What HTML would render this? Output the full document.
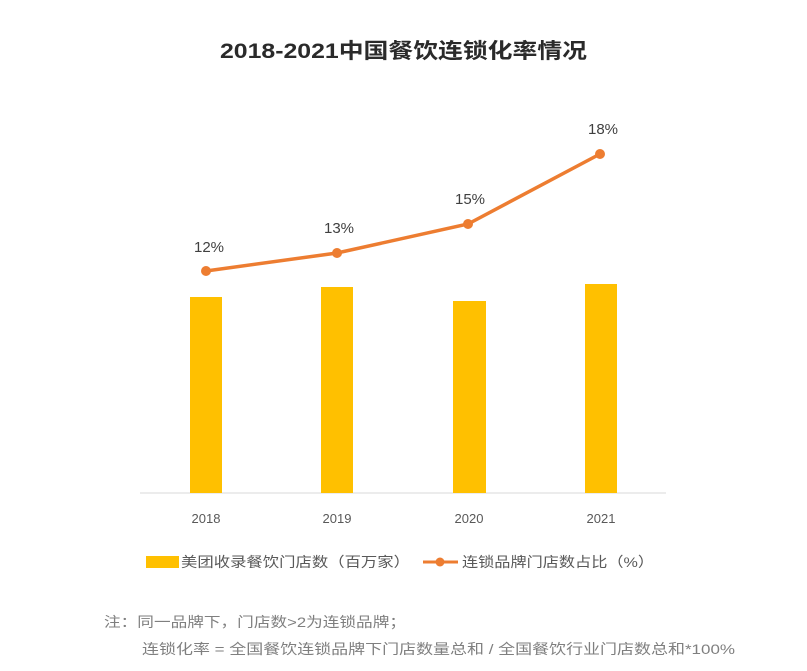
<!DOCTYPE html>
<html><head><meta charset="utf-8"><style>
body{margin:0;background:#fff;}
svg text{font-family:"Liberation Sans","Noto Sans CJK SC",sans-serif;}
</style></head><body>
<svg width="807" height="666" xmlns="http://www.w3.org/2000/svg">
<text x="220" y="58" font-size="21" font-weight="bold" fill="#2a2a2a" textLength="367" lengthAdjust="spacingAndGlyphs">2018-2021中国餐饮连锁化率情况</text>
<line x1="140" y1="493" x2="666" y2="493" stroke="#d9d9d9" stroke-width="1"/>
<g fill="#ffc000">
<rect x="190" y="297" width="32" height="196"/>
<rect x="321" y="287" width="32" height="206"/>
<rect x="453" y="301" width="33" height="192"/>
<rect x="585" y="284" width="32" height="209"/>
</g>
<polyline points="206,271 337,253 468,224 600,154" fill="none" stroke="#ed7d31" stroke-width="3.5"/>
<g fill="#ed7d31"><circle cx="206" cy="271" r="5"/><circle cx="337" cy="253" r="5"/><circle cx="468" cy="224" r="5"/><circle cx="600" cy="154" r="5"/></g>
<g font-size="15" fill="#404040" text-anchor="middle">
<text x="209" y="252">12%</text><text x="339" y="233">13%</text><text x="470" y="204">15%</text><text x="603" y="134">18%</text>
</g>
<g font-size="13" fill="#595959" text-anchor="middle">
<text x="206" y="523">2018</text><text x="337" y="523">2019</text><text x="469" y="523">2020</text><text x="601" y="523">2021</text>
</g>
<rect x="146" y="556" width="33" height="12" fill="#ffc000"/>
<text x="181" y="567" font-size="14" fill="#595959" textLength="229" lengthAdjust="spacingAndGlyphs">美团收录餐饮门店数（百万家）</text>
<line x1="423" y1="562" x2="458" y2="562" stroke="#ed7d31" stroke-width="3"/>
<circle cx="440" cy="562" r="4.5" fill="#ed7d31"/>
<text x="462" y="567" font-size="14" fill="#595959" textLength="192" lengthAdjust="spacingAndGlyphs">连锁品牌门店数占比（%）</text>
<text x="104" y="627" font-size="14" fill="#7f7f7f" textLength="302" lengthAdjust="spacingAndGlyphs">注：同一品牌下，门店数&gt;2为连锁品牌；</text>
<text x="142" y="654" font-size="14" fill="#7f7f7f" textLength="593" lengthAdjust="spacingAndGlyphs">连锁化率 = 全国餐饮连锁品牌下门店数量总和 / 全国餐饮行业门店数总和*100%</text>
</svg>
</body></html>
